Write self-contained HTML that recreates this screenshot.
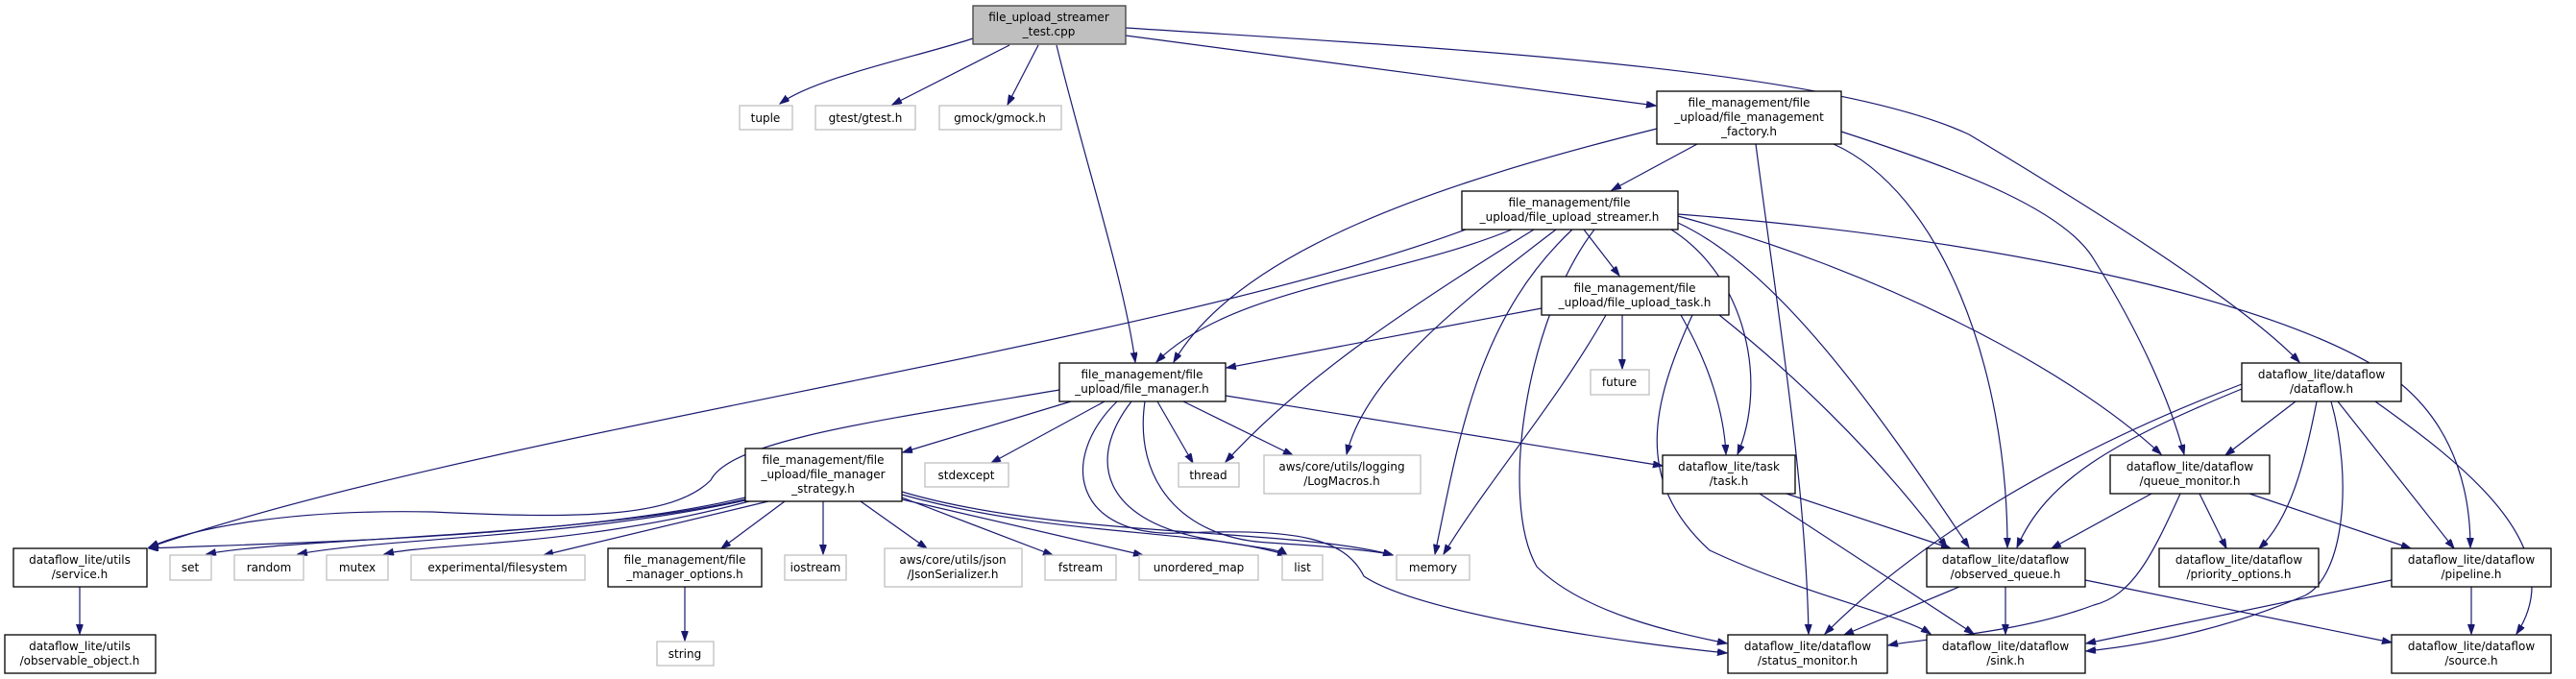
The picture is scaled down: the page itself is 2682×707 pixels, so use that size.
<!DOCTYPE html>
<html><head><meta charset="utf-8"><style>
html,body{margin:0;padding:0;background:#fff}
svg{display:block}
text{font-family:"DejaVu Sans","Liberation Sans",sans-serif;font-size:12px;fill:#000}
.e{fill:none;stroke:#191970;stroke-width:1.2}
.n{fill:#fff;stroke:#000;stroke-width:1.3}
.x{fill:#fff;stroke:#bfbfbf;stroke-width:1.3}
</style></head><body>
<svg width="2682" height="707" viewBox="0 0 2682 707" xmlns="http://www.w3.org/2000/svg">
<defs><marker id="a" markerWidth="11" markerHeight="8" refX="10" refY="3.5" orient="auto" markerUnits="userSpaceOnUse"><path d="M0,0 L10,3.5 L0,7 z" fill="#191970" stroke="#191970"/></marker></defs>
<g marker-end="url(#a)">
<path class="e" d="M1013,40 C960,58 850,80 812,108"/>
<path class="e" d="M1051,47 L929,109"/>
<path class="e" d="M1081,47 L1049,109"/>
<path class="e" d="M1100,47 C1130,170 1170,290 1182,377"/>
<path class="e" d="M1172,37 L1724,110"/>
<path class="e" d="M1172,29 C1500,50 1900,70 2050,140 C2200,230 2340,320 2394,377"/>
<path class="e" d="M1767,150 L1678,198"/>
<path class="e" d="M1725,134 C1500,190 1290,260 1222,377"/>
<path class="e" d="M1828,150 C1850,320 1880,500 1883,660"/>
<path class="e" d="M1909,150 C2020,200 2090,380 2090,570"/>
<path class="e" d="M1917,137 C2050,180 2150,220 2180,270 C2230,350 2260,420 2274,473"/>
<path class="e" d="M1649,239 L1686,287"/>
<path class="e" d="M1574,239 C1450,290 1280,300 1204,377"/>
<path class="e" d="M1526,239 C1200,360 500,450 155,570"/>
<path class="e" d="M1597,239 C1450,330 1350,400 1276,481"/>
<path class="e" d="M1620,239 C1500,330 1420,400 1402,473"/>
<path class="e" d="M1637,239 C1540,330 1520,450 1494,577"/>
<path class="e" d="M1660,239 C1590,330 1560,520 1600,590 C1650,640 1750,660 1798,670"/>
<path class="e" d="M1740,239 C1820,290 1840,400 1809,473"/>
<path class="e" d="M1750,328 C1780,380 1795,430 1797,473"/>
<path class="e" d="M1747,232 C1850,280 1950,420 2050,570"/>
<path class="e" d="M1747,225 C1950,280 2150,380 2250,473"/>
<path class="e" d="M1747,223 C2100,250 2400,320 2500,400 C2560,450 2572,520 2572,570"/>
<path class="e" d="M1605,321 C1450,350 1350,370 1277,383"/>
<path class="e" d="M1689,328 L1689,384"/>
<path class="e" d="M1672,328 C1620,420 1550,500 1503,577"/>
<path class="e" d="M1790,328 C1880,400 1960,480 2027,570"/>
<path class="e" d="M1762,328 C1720,420 1700,500 1780,573 C1880,620 1980,640 2010,660"/>
<path class="e" d="M1832,514 L2055,660"/>
<path class="e" d="M1860,514 L2031,571"/>
<path class="e" d="M1115,418 L940,471"/>
<path class="e" d="M1150,418 L1032,482"/>
<path class="e" d="M1205,418 L1242,482"/>
<path class="e" d="M1232,418 L1346,474"/>
<path class="e" d="M1276,412 L1731,485"/>
<path class="e" d="M1103,406 C900,440 760,460 740,500 C700,540 600,540 450,533 C300,530 200,550 155,570"/>
<path class="e" d="M1178,418 C1130,480 1150,540 1250,560 C1300,570 1330,570 1340,578"/>
<path class="e" d="M1192,418 C1180,500 1230,560 1320,565 C1400,570 1440,575 1450,578"/>
<path class="e" d="M1163,418 C1100,480 1120,560 1230,555 C1350,550 1400,560 1420,600 C1480,640 1700,670 1798,680"/>
<path class="e" d="M776,518 C600,560 300,565 155,571"/>
<path class="e" d="M776,520 C600,560 300,560 215,577"/>
<path class="e" d="M776,521 C600,560 400,560 310,577"/>
<path class="e" d="M780,522 C600,570 450,565 400,577"/>
<path class="e" d="M800,522 L566,578"/>
<path class="e" d="M817,522 L751,571"/>
<path class="e" d="M857,522 L857,577"/>
<path class="e" d="M896,522 L965,571"/>
<path class="e" d="M939,518 L1096,578"/>
<path class="e" d="M939,520 L1190,578"/>
<path class="e" d="M939,515 C1100,560 1250,550 1340,578"/>
<path class="e" d="M939,512 C1100,560 1350,550 1450,578"/>
<path class="e" d="M83,611 L83,660"/>
<path class="e" d="M713,611 L713,667"/>
<path class="e" d="M2390,418 L2317,474"/>
<path class="e" d="M2334,405 C2200,460 2130,500 2100,570"/>
<path class="e" d="M2334,400 C2150,470 2000,560 1900,660"/>
<path class="e" d="M2412,418 C2400,480 2385,540 2352,571"/>
<path class="e" d="M2427,418 C2450,500 2440,600 2400,620 C2330,650 2250,670 2172,678"/>
<path class="e" d="M2434,418 L2555,571"/>
<path class="e" d="M2473,418 C2560,480 2680,570 2620,660"/>
<path class="e" d="M2240,514 L2136,571"/>
<path class="e" d="M2270,514 C2240,580 2220,620 2180,630 C2100,660 2000,665 1966,672"/>
<path class="e" d="M2290,514 L2318,571"/>
<path class="e" d="M2342,514 L2510,571"/>
<path class="e" d="M2040,611 L1920,661"/>
<path class="e" d="M2088,611 L2088,660"/>
<path class="e" d="M2171,604 L2490,669"/>
<path class="e" d="M2490,604 L2172,670"/>
<path class="e" d="M2573,611 L2573,660"/>
</g>
<g text-anchor="middle">
<rect x="1013" y="6" width="159" height="40" fill="#bfbfbf" stroke="#404040" stroke-width="1.3"/>
<text x="1092" y="22">file_upload_streamer</text><text x="1092" y="37">_test.cpp</text>
<rect class="x" x="770" y="110" width="55" height="25"/><text x="797" y="127">tuple</text>
<rect class="x" x="849" y="110" width="104" height="25"/><text x="901" y="127">gtest/gtest.h</text>
<rect class="x" x="978" y="110" width="127" height="25"/><text x="1041" y="127">gmock/gmock.h</text>
<rect class="n" x="1725" y="95" width="192" height="55"/>
<text x="1821" y="111">file_management/file</text><text x="1821" y="126">_upload/file_management</text><text x="1821" y="141">_factory.h</text>
<rect class="n" x="1522" y="199" width="225" height="40"/>
<text x="1634" y="215">file_management/file</text><text x="1634" y="230">_upload/file_upload_streamer.h</text>
<rect class="n" x="1605" y="288" width="195" height="40"/>
<text x="1702" y="304">file_management/file</text><text x="1702" y="319">_upload/file_upload_task.h</text>
<rect class="x" x="1656" y="385" width="61" height="26"/><text x="1686" y="402">future</text>
<rect class="n" x="1103" y="378" width="173" height="40"/>
<text x="1189" y="394">file_management/file</text><text x="1189" y="409">_upload/file_manager.h</text>
<rect class="n" x="2334" y="378" width="166" height="40"/>
<text x="2417" y="394">dataflow_lite/dataflow</text><text x="2417" y="409">/dataflow.h</text>
<rect class="n" x="776" y="467" width="163" height="55"/>
<text x="857" y="483">file_management/file</text><text x="857" y="498">_upload/file_manager</text><text x="857" y="513">_strategy.h</text>
<rect class="x" x="963" y="482" width="87" height="25"/><text x="1006" y="499">stdexcept</text>
<rect class="x" x="1227" y="482" width="63" height="25"/><text x="1258" y="499">thread</text>
<rect class="x" x="1316" y="474" width="163" height="40"/>
<text x="1397" y="490">aws/core/utils/logging</text><text x="1397" y="505">/LogMacros.h</text>
<rect class="n" x="1731" y="474" width="138" height="40"/>
<text x="1800" y="490">dataflow_lite/task</text><text x="1800" y="505">/task.h</text>
<rect class="n" x="2197" y="474" width="166" height="40"/>
<text x="2280" y="490">dataflow_lite/dataflow</text><text x="2280" y="505">/queue_monitor.h</text>
<rect class="n" x="14" y="571" width="139" height="40"/>
<text x="83" y="587">dataflow_lite/utils</text><text x="83" y="602">/service.h</text>
<rect class="x" x="177" y="578" width="43" height="26"/><text x="198" y="595">set</text>
<rect class="x" x="244" y="578" width="72" height="26"/><text x="280" y="595">random</text>
<rect class="x" x="340" y="578" width="64" height="26"/><text x="372" y="595">mutex</text>
<rect class="x" x="428" y="578" width="181" height="26"/><text x="518" y="595">experimental/filesystem</text>
<rect class="n" x="633" y="571" width="160" height="40"/>
<text x="713" y="587">file_management/file</text><text x="713" y="602">_manager_options.h</text>
<rect class="x" x="817" y="578" width="64" height="26"/><text x="849" y="595">iostream</text>
<rect class="x" x="921" y="571" width="143" height="40"/>
<text x="992" y="587">aws/core/utils/json</text><text x="992" y="602">/JsonSerializer.h</text>
<rect class="x" x="1088" y="578" width="74" height="26"/><text x="1125" y="595">fstream</text>
<rect class="x" x="1186" y="578" width="124" height="26"/><text x="1248" y="595">unordered_map</text>
<rect class="x" x="1335" y="578" width="42" height="26"/><text x="1356" y="595">list</text>
<rect class="x" x="1454" y="578" width="76" height="26"/><text x="1492" y="595">memory</text>
<rect class="n" x="2006" y="571" width="165" height="40"/>
<text x="2088" y="587">dataflow_lite/dataflow</text><text x="2088" y="602">/observed_queue.h</text>
<rect class="n" x="2248" y="571" width="166" height="40"/>
<text x="2331" y="587">dataflow_lite/dataflow</text><text x="2331" y="602">/priority_options.h</text>
<rect class="n" x="2490" y="571" width="166" height="40"/>
<text x="2573" y="587">dataflow_lite/dataflow</text><text x="2573" y="602">/pipeline.h</text>
<rect class="n" x="5" y="661" width="157" height="40"/>
<text x="83" y="677">dataflow_lite/utils</text><text x="83" y="692">/observable_object.h</text>
<rect class="x" x="684" y="668" width="59" height="25"/><text x="713" y="685">string</text>
<rect class="n" x="1799" y="661" width="166" height="40"/>
<text x="1882" y="677">dataflow_lite/dataflow</text><text x="1882" y="692">/status_monitor.h</text>
<rect class="n" x="2006" y="661" width="165" height="40"/>
<text x="2088" y="677">dataflow_lite/dataflow</text><text x="2088" y="692">/sink.h</text>
<rect class="n" x="2490" y="661" width="166" height="40"/>
<text x="2573" y="677">dataflow_lite/dataflow</text><text x="2573" y="692">/source.h</text>
</g>
</svg>
</body></html>
